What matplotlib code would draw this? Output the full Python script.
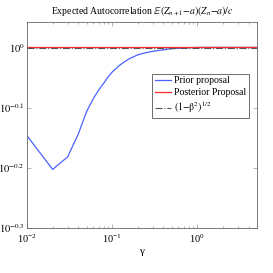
import numpy as np
import matplotlib
matplotlib.use("Agg")
import matplotlib.pyplot as plt
from matplotlib.ticker import FixedLocator, NullFormatter

plt.rcParams['font.family'] = ['Liberation Serif', 'DejaVu Serif']
plt.rcParams['mathtext.fontset'] = 'stix'

# values
gamma = [0.01, 0.02, 0.03, 0.04, 0.05, 0.06, 0.07, 0.08, 0.09, 0.1, 0.12,
         0.14, 0.16, 0.2, 0.25, 0.3, 0.4, 0.5, 0.7, 1.0, 2.0, 5.0]
prior = [0.713, 0.627, 0.658, 0.718, 0.782, 0.822, 0.851, 0.873, 0.894,
         0.910, 0.932, 0.947, 0.958, 0.972, 0.980, 0.985, 0.991, 0.995,
         0.998, 1.0, 1.0, 1.0]
post_x = [0.01, 5.0]
posterior = [1.0, 1.0]
bound = [0.999, 0.999]

yticks = [10**-0.3, 10**-0.2, 10**-0.1, 1.0]
ylabels = [r'$10^{-0.3}$', r'$10^{-0.2}$', r'$10^{-0.1}$', r'$10^{0}$']

fig = plt.figure(figsize=(2.73, 2.73), dpi=100)
ax = fig.add_axes([0.099, 0.165, 0.842, 0.754])

ax.plot(gamma, prior, color='#4a62ff', lw=0.9, label='Prior proposal')
ax.plot(post_x, posterior, color='#ff2a2a', lw=0.9, label='Posterior Proposal')
ax.plot(post_x, bound, color='#555555', lw=0.8, ls='-.', label=r'$(1{-}\mathrm{\beta}^2)^{1/2}$')

ax.set_xscale('log')
ax.set_yscale('log')
ax.set_xlim(0.01, 5)
ax.set_ylim(10**-0.3, 10**0.042)

ax.yaxis.set_major_locator(FixedLocator(yticks))
ax.set_yticklabels(ylabels)
ax.yaxis.set_minor_locator(FixedLocator([]))
ax.yaxis.set_minor_formatter(NullFormatter())

ax.tick_params(which='both', direction='in', top=True, right=True,
               labelsize=7.5, width=0.4, color='#777777', pad=1.5)
ax.tick_params(axis='x', which='major', pad=3.5)
ax.tick_params(which='major', length=3)
ax.tick_params(which='minor', length=1.5)
for s in ax.spines.values():
    s.set_linewidth(0.6)
    s.set_color('#666666')

ax.set_xlabel('γ', fontsize=8, labelpad=1)
ax.set_title(r'Expected Autocorrelation $\mathbb{E}(Z_{n+1}{-}a)(Z_n{-}a)/c$',
             fontsize=7, pad=6)

leg = ax.legend(loc='upper right', bbox_to_anchor=(0.965, 0.75), fontsize=7,
                fancybox=False, framealpha=1, edgecolor='#555555',
                handlelength=1.6, handletextpad=0.3, borderpad=0.3,
                labelspacing=0.25, borderaxespad=0)
leg.get_frame().set_linewidth(0.6)

fig.savefig('out.png', dpi=100)
